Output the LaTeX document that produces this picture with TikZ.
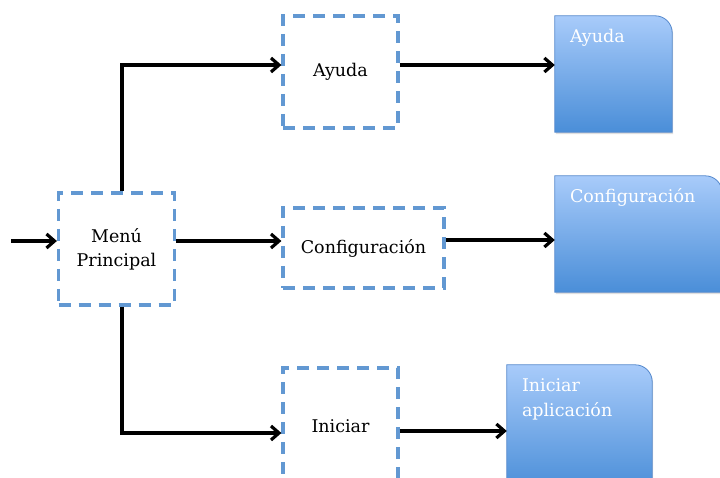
\documentclass[tikz,border=0pt]{standalone}
\usepackage{fontspec}
\setmainfont{DejaVu Serif}
\usetikzlibrary{arrows.meta,shadows}
\definecolor{dashblue}{RGB}{98,152,210}
\definecolor{gradtop}{RGB}{168,203,250}
\definecolor{gradbot}{RGB}{74,142,216}
\definecolor{edgeblue}{RGB}{84,136,204}
\begin{document}
\begin{tikzpicture}[x=1pt,y=-1pt,
  txt/.style={font=\fontsize{17.5}{24}\selectfont},
  dbox/.style={draw=dashblue, line width=3.2pt, dash pattern=on 12pt off 8pt,
    rectangle, inner sep=0pt, txt, align=center},
  bbox/.style={rectangle, inner sep=0pt},
  btxt/.style={txt, text=white, inner sep=0pt, anchor=base west, align=left},
  arr/.style={line width=3.2pt, -{Straight Barb[length=8pt,width=14pt]}},
  bshape/.style={top color=gradtop, bottom color=gradbot, draw=edgeblue, line width=0.8pt,
    drop shadow={opacity=0.25, shadow xshift=1pt, shadow yshift=-2pt}}
]
\useasboundingbox (0,0) rectangle (720,478);

% dashed boxes
\node[dbox, minimum width=116pt, minimum height=112pt] (menu) at (116.5,249) {Menú\\Principal};
\node[dbox, minimum width=115pt, minimum height=112pt] (ayuda) at (340.5,72) {\raisebox{-3pt}{Ayuda}};
\node[dbox, minimum width=161pt, minimum height=80pt] (cfg) at (363.5,248) {Configuración};
\node[dbox, minimum width=115pt, minimum height=116pt] (ini) at (340.5,426) {Iniciar};

% blue boxes (placeholders)
\node[bbox, minimum width=117pt, minimum height=116pt] (bA) at (613.5,74) {};
\node[bbox, minimum width=167pt, minimum height=116pt] (bC) at (638.5,234) {};
\node[bbox, minimum width=145pt, minimum height=125pt] (bI) at (579.5,427.5) {};

\foreach \b in {bA,bC,bI}{
  \path[bshape] (\b.south west) -- (\b.north west) -- ([xshift=-17pt]\b.north east)
    arc[start angle=90, end angle=0, radius=17pt] -- (\b.south east) -- cycle;
}

\node[btxt] (tA) at ([xshift=15pt,yshift=-27pt]bA.north west) {Ayuda};
\node[btxt] (tC) at ([xshift=15pt,yshift=-27pt]bC.north west) {Configuración};
\node[btxt, font=\fontsize{17.5}{25}\selectfont] (tI) at ([xshift=15pt,yshift=-52pt]bI.north west) {Iniciar\\aplicación};

% connectors
\coordinate (start) at (11,241);
\draw[arr] (start) -- (menu.west |- start);
\draw[arr] (menu.east |- start) -- (cfg.west |- start);
\draw[arr] ([xshift=5.5pt]menu.north) |- ([yshift=7pt]ayuda.west);
\draw[arr] ([xshift=5.5pt]menu.south) |- ([yshift=-7pt]ini.west);
\draw[arr] ([yshift=7pt]ayuda.east) -- ([yshift=7pt]ayuda.east -| bA.west);
\draw[arr] ([yshift=8pt]cfg.east) -- ([yshift=8pt]cfg.east -| bC.west);
\draw[arr] ([yshift=-5pt]ini.east) -- ([yshift=-5pt]ini.east -| bI.west);
\end{tikzpicture}
\end{document}
